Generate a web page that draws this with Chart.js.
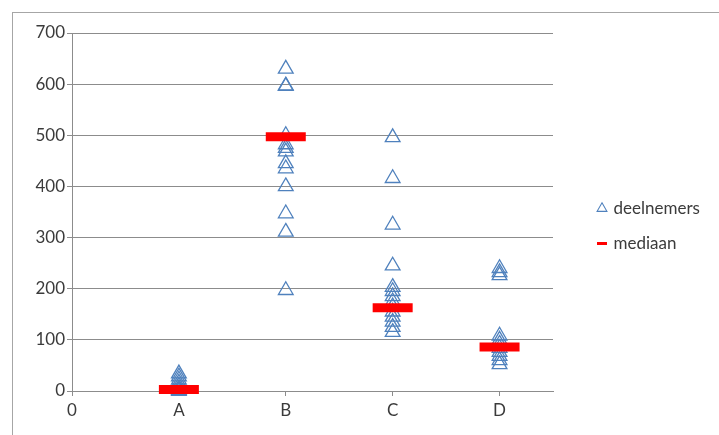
<!DOCTYPE html>
<html>
<head>
<meta charset="utf-8">
<script src="https://cdn.jsdelivr.net/npm/chart.js@4.4.1/dist/chart.umd.min.js"></script>
<style>
  html, body { margin: 0; padding: 0; background: #fff; }
  #wrap { width: 719px; height: 435px; }
</style>
</head>
<body>
<div id="wrap"><canvas id="chart" width="719" height="435"></canvas></div>
<script>
// categories on the x axis (0 is the origin label)
const categories = ['A', 'B', 'C', 'D'];
const xTickLabels = ['0', 'A', 'B', 'C', 'D'];

// participants per category
const groupA = [34, 28, 22, 16, 10, 5, 2, 0];
const groupB = [630, 597, 596, 500, 482, 475, 468, 445, 435, 400, 347, 311, 197];
const groupC = [496, 416, 325, 245, 203, 195, 185, 175, 165, 155, 145, 135, 125, 115];
const groupD = [240, 232, 226, 108, 100, 92, 84, 76, 68, 60, 52];

// median per category
const medians = [3, 497, 163, 86];

const groups = [groupA, groupB, groupC, groupD];

const blue = '#4f81bd';
const red = '#ff0000';
const textColor = '#3b3b3b';
const gridColor = '#8c8c8c';

// build scatter points from the arrays
const participantPoints = [];
groups.forEach((vals, i) => {
    vals.forEach(v => participantPoints.push({x: i + 1, y: v}));
});
const medianPoints = medians.map((v, i) => ({x: i + 1, y: v}));

// small red dash for the legend
const legendDash = document.createElement('canvas');
legendDash.width = 10;
legendDash.height = 3;
const dctx = legendDash.getContext('2d');
dctx.fillStyle = red;
dctx.fillRect(0, 0, 10, 3);

// outer frame like the spreadsheet chart border
const framePlugin = {
    id: 'frame',
    beforeDraw(chart) {
        const ctx = chart.ctx;
        ctx.save();
        ctx.fillStyle = '#fff';
        ctx.fillRect(0, 0, chart.width, chart.height);
        ctx.strokeStyle = '#a6a6a6';
        ctx.lineWidth = 1;
        ctx.strokeRect(12.5, 12.5, 800, 800);
        ctx.restore();
    }
};

// fix the legend box width and move it where the reference has it
const legendPlace = {
    id: 'legendPlace',
    beforeLayout(chart) {
        const lg = chart.legend;
        if (lg && !lg._patched) {
            const orig = lg.fit;
            lg.fit = function () {
                orig.call(this);
                this.width = 166;
            };
            lg._patched = true;
        }
    },
    afterLayout(chart) {
        const lg = chart.legend;
        const w = lg.width, h = lg.height;
        lg.left = 581;
        lg.right = lg.left + w;
        lg.top = 182;
        lg.bottom = lg.top + h;
    }
};

new Chart(document.getElementById('chart'), {
    type: 'scatter',
    data: {
        datasets: [
            {
                label: 'deelnemers',
                data: participantPoints,
                pointStyle: 'triangle',
                pointRadius: 8.5,
                borderColor: blue,
                backgroundColor: 'rgba(0,0,0,0)',
                borderWidth: 1.3,
                order: 1,
                clip: false
            },
            {
                label: 'mediaan',
                data: medianPoints,
                pointStyle: 'line',
                pointRadius: 20,
                borderColor: red,
                backgroundColor: red,
                borderWidth: 9,
                order: 0,
                clip: false
            }
        ]
    },
    options: {
        responsive: false,
        animation: false,
        events: [],
        layout: {
            padding: {top: 33, left: 0, right: 0, bottom: 0}
        },
        plugins: {
            tooltip: {enabled: false},
            legend: {
                position: 'right',
                align: 'start',
                labels: {
                    usePointStyle: true,
                    boxWidth: 6,
                    boxHeight: 8,
                    padding: 18,
                    color: textColor,
                    font: {family: 'Lato', size: 17},
                    sort: (a, b) => a.datasetIndex - b.datasetIndex,
                    generateLabels(chart) {
                        const items = Chart.defaults.plugins.legend.labels.generateLabels(chart);
                        items.forEach(it => {
                            if (it.datasetIndex === 1) {
                                it.pointStyle = legendDash;
                            } else {
                                it.lineWidth = 1.1;
                            }
                        });
                        return items;
                    }
                }
            }
        },
        scales: {
            x: {
                type: 'linear',
                min: 0,
                max: 4.5,
                afterBuildTicks(scale) {
                    scale.ticks = xTickLabels.map((_, i) => ({value: i}));
                },
                afterFit(scale) {
                    scale.height = 44;
                },
                grid: {
                    drawOnChartArea: false,
                    drawTicks: true,
                    tickLength: 5,
                    color: gridColor
                },
                border: {color: gridColor, width: 1},
                ticks: {
                    padding: 4,
                    color: textColor,
                    font: {family: 'Lato', size: 17},
                    maxRotation: 0,
                    callback: (v) => xTickLabels[v] !== undefined ? xTickLabels[v] : ''
                }
            },
            y: {
                min: 0,
                max: 700,
                afterFit(scale) {
                    scale.width = 72;
                },
                grid: {
                    color: gridColor,
                    tickLength: 5
                },
                border: {color: gridColor, width: 1},
                ticks: {
                    stepSize: 100,
                    padding: 2,
                    color: textColor,
                    font: {family: 'Lato', size: 17}
                }
            }
        }
    },
    plugins: [framePlugin, legendPlace]
});
</script>
</body>
</html>
